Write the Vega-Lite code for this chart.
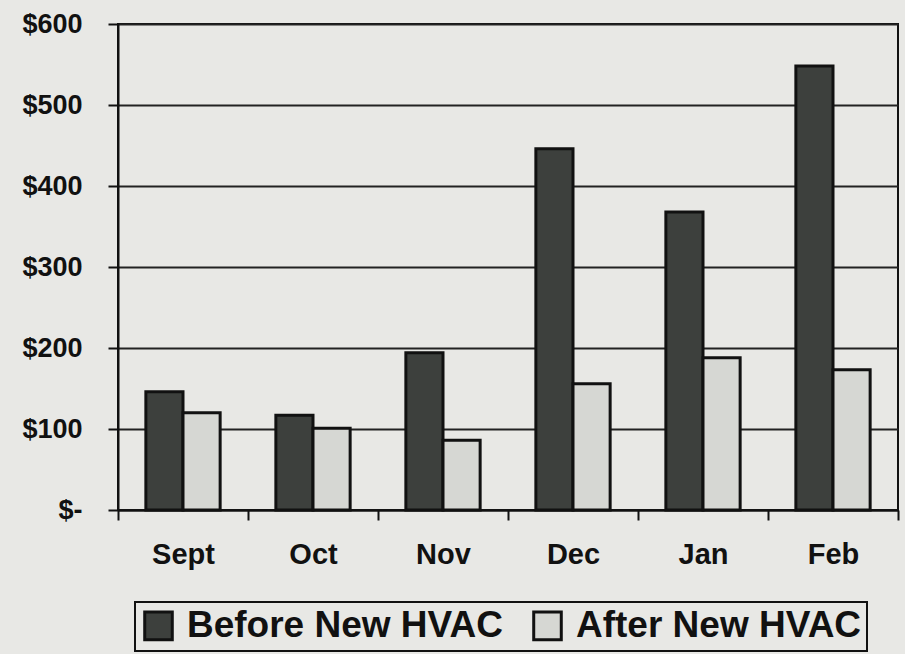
{
  "$schema": "https://vega.github.io/schema/vega-lite/v6.json",
  "autosize": "none",
  "width": 780,
  "height": 486,
  "padding": {"left": 118, "top": 24, "right": 7, "bottom": 144},
  "background": "#e8e8e5",
  "data": {
    "values": [
      {"month": "Sept", "period": "Before New HVAC", "cost": 146},
      {"month": "Sept", "period": "After New HVAC", "cost": 120},
      {"month": "Oct", "period": "Before New HVAC", "cost": 117},
      {"month": "Oct", "period": "After New HVAC", "cost": 101},
      {"month": "Nov", "period": "Before New HVAC", "cost": 194},
      {"month": "Nov", "period": "After New HVAC", "cost": 86},
      {"month": "Dec", "period": "Before New HVAC", "cost": 446},
      {"month": "Dec", "period": "After New HVAC", "cost": 156},
      {"month": "Jan", "period": "Before New HVAC", "cost": 368},
      {"month": "Jan", "period": "After New HVAC", "cost": 188},
      {"month": "Feb", "period": "Before New HVAC", "cost": 548},
      {"month": "Feb", "period": "After New HVAC", "cost": 173}
    ]
  },
  "mark": {"type": "bar", "stroke": "#111111", "strokeWidth": 3},
  "encoding": {
    "x": {
      "field": "month",
      "type": "nominal",
      "sort": ["Sept", "Oct", "Nov", "Dec", "Jan", "Feb"],
      "scale": {"paddingInner": 0, "paddingOuter": 0},
      "axis": {
        "title": null,
        "labelAngle": 0,
        "labelFont": "Liberation Sans",
        "labelFontWeight": "bold",
        "labelFontSize": 29,
        "labelColor": "#111111",
        "labelPadding": 20,
        "tickBand": "extent",
        "tickSize": 10,
        "tickWidth": 2,
        "tickColor": "#111111",
        "domainColor": "#111111",
        "domainWidth": 2,
        "grid": false
      }
    },
    "xOffset": {
      "field": "period",
      "type": "nominal",
      "sort": ["Before New HVAC", "After New HVAC"],
      "scale": {"paddingInner": 0, "paddingOuter": 0.75}
    },
    "y": {
      "field": "cost",
      "type": "quantitative",
      "scale": {"domain": [0, 600], "nice": false},
      "axis": {
        "title": null,
        "values": [0, 100, 200, 300, 400, 500, 600],
        "labelExpr": "datum.value == 0 ? '$-' : '$' + datum.value",
        "labelFont": "Liberation Sans",
        "labelFontWeight": "bold",
        "labelFontSize": 27,
        "labelColor": "#111111",
        "labelPadding": 26,
        "tickSize": 10,
        "tickWidth": 2,
        "tickColor": "#111111",
        "domainColor": "#111111",
        "domainWidth": 2,
        "grid": true,
        "gridColor": "#222222",
        "gridWidth": 2
      }
    },
    "color": {
      "field": "period",
      "type": "nominal",
      "scale": {
        "domain": ["Before New HVAC", "After New HVAC"],
        "range": ["#3d403d", "#d6d7d3"]
      },
      "legend": {
        "title": null,
        "orient": "none",
        "direction": "horizontal",
        "legendX": 17,
        "legendY": 578,
        "padding": 5,
        "labelFont": "Liberation Sans",
        "labelFontWeight": "bold",
        "labelFontSize": 37,
        "labelColor": "#111111",
        "labelLimit": 500,
        "labelOffset": 10,
        "columnPadding": 24,
        "symbolType": "square",
        "symbolSize": 760,
        "symbolStrokeColor": "#111111",
        "symbolStrokeWidth": 3,
        "symbolOpacity": 1,
        "strokeColor": "#111111"
      }
    }
  },
  "config": {
    "view": {"stroke": "#111111", "strokeWidth": 2},
    "legend": {"strokeWidth": 2}
  }
}
